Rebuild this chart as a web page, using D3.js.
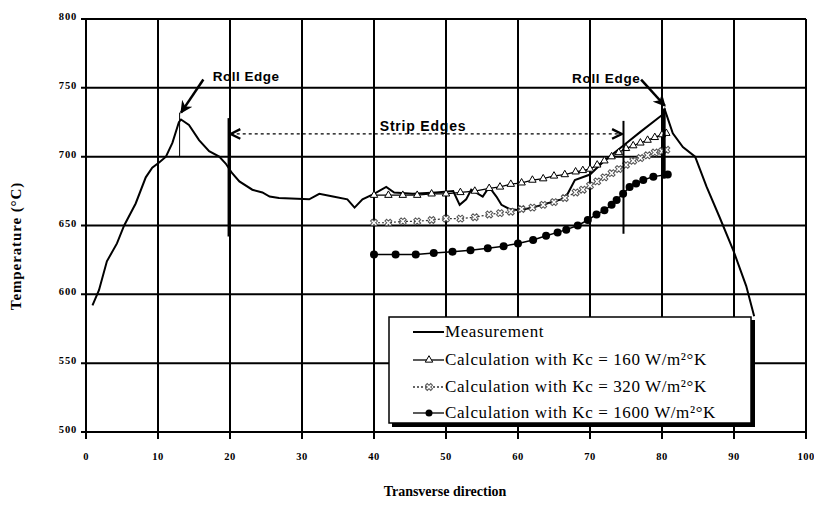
<!DOCTYPE html>
<html>
<head>
<meta charset="utf-8">
<script src="https://cdn.jsdelivr.net/npm/d3@7"></script>
<style>
    body { margin: 0; background: #fff; }
</style>
</head>
<body>
<div id="chart"></div>
<script>
// tick values for both axes
var xTicks = [0, 10, 20, 30, 40, 50, 60, 70, 80, 90, 100];
var yTicks = [500, 550, 600, 650, 700, 750, 800];

// measured strip temperature across the width
var measX = [0.9, 1.8, 2.9, 4.3, 5.3, 6.9, 8.3, 9.2, 10.2, 11.1, 12, 12.9, 13.2, 14.3, 15.7, 17.1,
    18.5, 19.4, 20.3, 21.3, 23.1, 24.5, 25.5, 26.8, 31, 32.4, 34.3, 36.3, 37.3, 38.4, 40, 41.7,
    42.8, 45.4, 48.6, 51, 51.9, 52.8, 53.5, 55.1, 56, 57, 57.7, 58.8, 60.2, 62, 64, 66, 66.9,
    67.9, 70, 72, 74.6, 77, 80.2, 80.4, 81.5, 82.9, 84.6, 86.2, 88, 89.9, 91.7, 92.8];
var measT = [592, 603, 624, 637, 650, 666, 685, 692, 696, 700, 710, 725, 727, 723, 712, 704,
    700, 695, 688, 682, 676, 674, 671, 670, 669, 673, 671, 669, 663, 669, 673, 678,
    674, 673, 674, 675, 665, 669, 676, 671, 678, 671, 665, 662, 661, 663, 666, 669, 673,
    683, 687, 697, 708, 718, 731, 734, 717, 707, 700, 678, 656, 632, 606, 584];

// calculated temperatures, Kc = 160 and 320
var calcX = [40, 42, 44, 46, 48, 50, 52, 54, 56, 57.5, 59, 60.5, 62, 63.5, 65, 66.5, 68, 69,
    70, 71, 72, 73, 74, 75, 76, 77, 78, 79, 80, 80.6];
var kc160 = [672, 672, 672, 672, 673, 673, 674, 675, 677, 678, 680, 681, 683, 684, 686, 687,
    689, 690, 691, 694, 697, 700, 703, 706, 708, 710, 712, 714, 716, 717];
var kc320 = [652, 652, 653, 653, 654, 655, 655, 656, 658, 659, 660, 662, 663, 665, 667, 670,
    674, 676, 679, 682, 685, 688, 691, 694, 697, 699, 701, 703, 704, 705];

// calculated temperatures, Kc = 1600
var calcX1600 = [40, 43, 45.8, 48.3, 50.9, 53.4, 55.8, 58, 60, 62.1, 63.9, 65.5, 66.7, 68.3,
    69.7, 70.9, 72, 73, 73.7, 74.6, 75.5, 76.4, 77.4, 78.8, 80.8];
var kc1600 = [629, 629, 629, 630, 631, 632, 633.5, 635, 637, 639.5, 642.5, 645, 647, 650,
    654, 658, 661, 665, 668.5, 673, 678, 680.5, 683, 685.5, 687];

var legendLabels = ["Measurement", "Calculation with Kc = 160 W/m\u00b2\u00b0K",
    "Calculation with Kc = 320 W/m\u00b2\u00b0K", "Calculation with Kc = 1600 W/m\u00b2\u00b0K"];

var svgWidth = 814;
var svgHeight = 506;

var margin = {
    top: 19,
    bottom: 74,
    right: 8,
    left: 86
};

var width = svgWidth - margin.left - margin.right;
var height = svgHeight - margin.top - margin.bottom;

var serif = "'Liberation Serif', 'DejaVu Serif', serif";
var sans = "'Liberation Sans', Arial, sans-serif";

var svg = d3.select("#chart")
    .append("svg")
    .attr("width", svgWidth)
    .attr("height", svgHeight);

var chartGroup = svg.append("g")
    .attr("transform", `translate(${margin.left}, ${margin.top})`);

var xScale = d3.scaleLinear().domain([0, 100]).range([0, width]);
var yScale = d3.scaleLinear().domain([500, 800]).range([height, 0]);

// grid lines (heavy black, like the original)
chartGroup.selectAll(".vgrid")
    .data(xTicks)
    .enter()
    .append("line")
    .attr("x1", d => xScale(d))
    .attr("x2", d => xScale(d))
    .attr("y1", 0)
    .attr("y2", height + 7)
    .attr("stroke", "#000")
    .attr("stroke-width", 2);

chartGroup.selectAll(".hgrid")
    .data(yTicks)
    .enter()
    .append("line")
    .attr("x1", -5)
    .attr("x2", width)
    .attr("y1", d => yScale(d))
    .attr("y2", d => yScale(d))
    .attr("stroke", "#000")
    .attr("stroke-width", 2);

// tick labels
chartGroup.selectAll(".xlab")
    .data(xTicks)
    .enter()
    .append("text")
    .attr("x", d => xScale(d))
    .attr("y", height + 28)
    .attr("text-anchor", "middle")
    .style("font-family", serif)
    .style("font-weight", "bold")
    .style("font-size", "10.5px")
    .style("letter-spacing", "0.5px")
    .text(d => d);

chartGroup.selectAll(".ylab")
    .data(yTicks)
    .enter()
    .append("text")
    .attr("x", -9)
    .attr("y", d => yScale(d) + 1)
    .attr("text-anchor", "end")
    .style("font-family", serif)
    .style("font-weight", "bold")
    .style("font-size", "10.5px")
    .style("letter-spacing", "0.8px")
    .text(d => d);

// axis titles
svg.append("text")
    .attr("x", 445)
    .attr("y", 496)
    .attr("text-anchor", "middle")
    .style("font-family", serif)
    .style("font-weight", "bold")
    .style("font-size", "14px")
    .text("Transverse direction");

svg.append("text")
    .attr("transform", "translate(21, 246) rotate(-90)")
    .attr("text-anchor", "middle")
    .style("font-family", serif)
    .style("font-weight", "bold")
    .style("font-size", "15px")
    .style("letter-spacing", "0.9px")
    .text("Temperature (\u00b0C)");

// line generator
function lineFor(xs) {
    return d3.line()
        .x((d, i) => xScale(xs[i]))
        .y(d => yScale(d));
}

// measurement
chartGroup.append("path")
    .datum(measT)
    .attr("d", lineFor(measX))
    .attr("fill", "none")
    .attr("stroke", "#000")
    .attr("stroke-width", 2);

// Kc = 320 (dotted, open crosses)
chartGroup.append("path")
    .datum(kc320)
    .attr("d", lineFor(calcX))
    .attr("fill", "none")
    .attr("stroke", "#333")
    .attr("stroke-width", 1.2)
    .attr("stroke-dasharray", "2,2");

var crossSym = d3.symbol().type(d3.symbolCross).size(30);
chartGroup.selectAll(".m320")
    .data(kc320)
    .enter()
    .append("path")
    .attr("d", crossSym)
    .attr("transform", (d, i) => `translate(${xScale(calcX[i])}, ${yScale(d)}) rotate(45)`)
    .attr("fill", "#fff")
    .attr("stroke", "#555")
    .attr("stroke-width", 1);

// Kc = 160 (solid, open triangles)
chartGroup.append("path")
    .datum(kc160)
    .attr("d", lineFor(calcX))
    .attr("fill", "none")
    .attr("stroke", "#000")
    .attr("stroke-width", 1.2);

var triSym = d3.symbol().type(d3.symbolTriangle).size(24);
chartGroup.selectAll(".m160")
    .data(kc160)
    .enter()
    .append("path")
    .attr("d", triSym)
    .attr("transform", (d, i) => `translate(${xScale(calcX[i])}, ${yScale(d)})`)
    .attr("fill", "#fff")
    .attr("stroke", "#000")
    .attr("stroke-width", 1);

// Kc = 1600 (solid, filled circles)
chartGroup.append("path")
    .datum(kc1600)
    .attr("d", lineFor(calcX1600))
    .attr("fill", "none")
    .attr("stroke", "#000")
    .attr("stroke-width", 1.5);

chartGroup.selectAll(".m1600")
    .data(kc1600)
    .enter()
    .append("circle")
    .attr("cx", (d, i) => xScale(calcX1600[i]))
    .attr("cy", d => yScale(d))
    .attr("r", 4)
    .attr("fill", "#000");

// annotation arrow heads
var defs = svg.append("defs");
defs.append("marker")
    .attr("id", "solidHead")
    .attr("viewBox", "0 0 10 10")
    .attr("refX", 9)
    .attr("refY", 5)
    .attr("markerWidth", 5)
    .attr("markerHeight", 5)
    .attr("orient", "auto")
    .append("path")
    .attr("d", "M0,0 L10,5 L0,10 L3,5 Z")
    .attr("fill", "#000");

defs.append("marker")
    .attr("id", "openHead")
    .attr("viewBox", "0 0 10 10")
    .attr("refX", 9)
    .attr("refY", 5)
    .attr("markerWidth", 12)
    .attr("markerHeight", 12)
    .attr("markerUnits", "userSpaceOnUse")
    .attr("orient", "auto-start-reverse")
    .append("path")
    .attr("d", "M1,1 L9,5 L1,9")
    .attr("fill", "none")
    .attr("stroke", "#000")
    .attr("stroke-width", 2);

function vline(x, t1, t2, w) {
    chartGroup.append("line")
        .attr("x1", xScale(x)).attr("x2", xScale(x))
        .attr("y1", yScale(t1)).attr("y2", yScale(t2))
        .attr("stroke", "#000")
        .attr("stroke-width", w);
}

// roll edges
vline(13.0, 732, 700, 1);
vline(80.3, 735, 684, 3);

chartGroup.append("line")
    .attr("x1", xScale(16.3)).attr("y1", yScale(756))
    .attr("x2", xScale(13.2)).attr("y2", yScale(732))
    .attr("stroke", "#000")
    .attr("stroke-width", 2.5)
    .attr("marker-end", "url(#solidHead)");

chartGroup.append("line")
    .attr("x1", xScale(77.1)).attr("y1", yScale(756))
    .attr("x2", xScale(80.4)).attr("y2", yScale(737))
    .attr("stroke", "#000")
    .attr("stroke-width", 2.5)
    .attr("marker-end", "url(#solidHead)");

chartGroup.append("text")
    .attr("x", xScale(17.6))
    .attr("y", yScale(755))
    .style("font-family", sans)
    .style("font-weight", "bold")
    .style("font-size", "13.5px")
    .style("letter-spacing", "0.5px")
    .text("Roll Edge");

chartGroup.append("text")
    .attr("x", xScale(67.5))
    .attr("y", yScale(753.5))
    .style("font-family", sans)
    .style("font-weight", "bold")
    .style("font-size", "13.5px")
    .style("letter-spacing", "0.7px")
    .text("Roll Edge");

// strip edges
vline(19.8, 728, 642, 2);
vline(74.65, 726, 644, 2);

chartGroup.append("line")
    .attr("x1", xScale(20.1)).attr("y1", yScale(716.5))
    .attr("x2", xScale(74.4)).attr("y2", yScale(716.5))
    .attr("stroke", "#000")
    .attr("stroke-width", 1.2)
    .attr("stroke-dasharray", "3,3")
    .attr("marker-start", "url(#openHead)")
    .attr("marker-end", "url(#openHead)");

chartGroup.append("text")
    .attr("x", xScale(40.8))
    .attr("y", yScale(719))
    .style("font-family", sans)
    .style("font-weight", "bold")
    .style("font-size", "14px")
    .style("letter-spacing", "0.8px")
    .text("Strip Edges");

// legend
var legend = svg.append("g")
    .attr("transform", "translate(389, 317)");

legend.append("rect")
    .attr("x", 3).attr("y", 3)
    .attr("width", 363).attr("height", 107)
    .attr("fill", "#000");

legend.append("rect")
    .attr("width", 362).attr("height", 106)
    .attr("fill", "#fff")
    .attr("stroke", "#000")
    .attr("stroke-width", 1.5);

var rowY = [15, 43, 70, 96];

legendLabels.forEach(function(label, i) {
    var row = legend.append("g")
        .attr("transform", `translate(0, ${rowY[i]})`);

    row.append("line")
        .attr("x1", 24).attr("x2", 55)
        .attr("stroke", i == 2 ? "#333" : "#000")
        .attr("stroke-width", i == 0 ? 2 : 1.3)
        .attr("stroke-dasharray", i == 2 ? "2,2" : null);

    if (i == 1) {
        row.append("path").attr("d", triSym)
            .attr("transform", "translate(40, 0)")
            .attr("fill", "#fff").attr("stroke", "#000");
    } else if (i == 2) {
        row.append("path").attr("d", crossSym)
            .attr("transform", "translate(40, 0) rotate(45)")
            .attr("fill", "#fff").attr("stroke", "#555");
    } else if (i == 3) {
        row.append("circle").attr("cx", 40).attr("r", 3.5).attr("fill", "#000");
    }

    row.append("text")
        .attr("x", 56)
        .attr("y", 5)
        .style("font-family", serif)
        .style("font-size", "17px")
        .style("letter-spacing", "0.6px")
        .text(label);
});
</script>
</body>
</html>
